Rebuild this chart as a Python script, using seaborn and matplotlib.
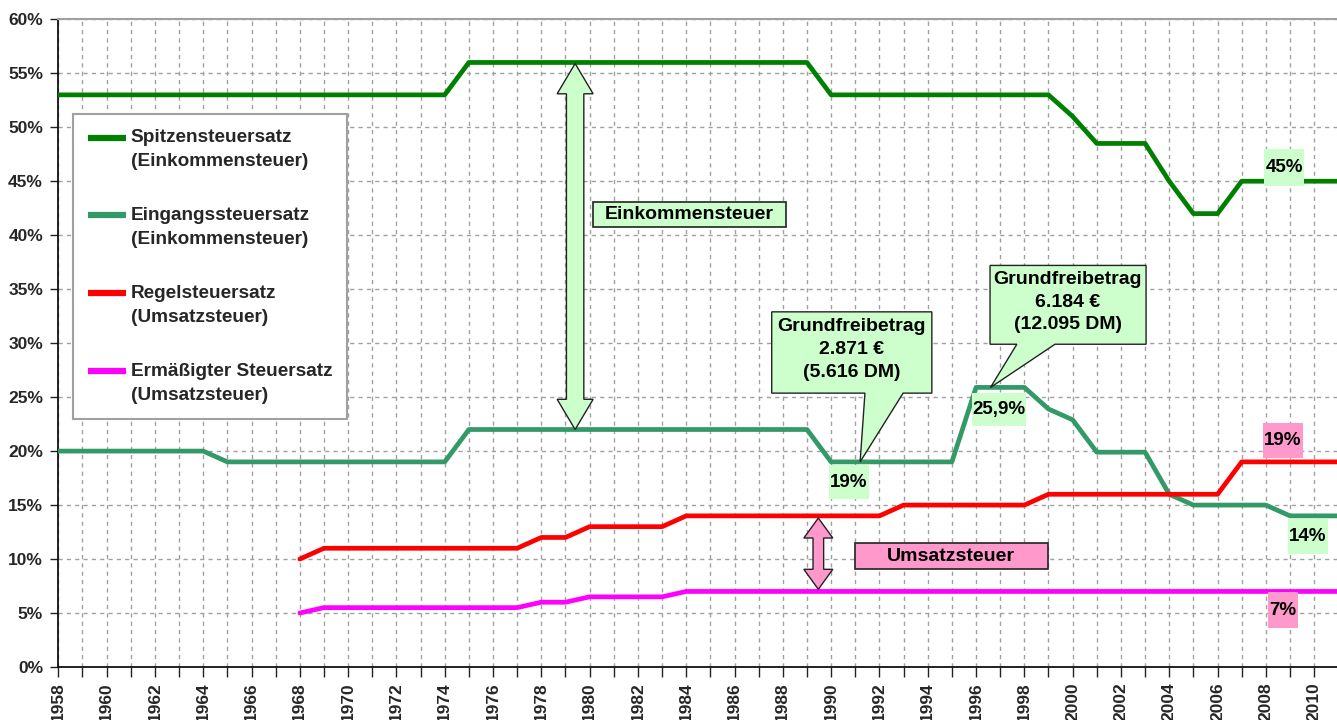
import numpy as np
import pandas as pd
import matplotlib
matplotlib.use("Agg")
import matplotlib.pyplot as plt
import matplotlib.patches as mpatches
from matplotlib.lines import Line2D
from matplotlib.legend_handler import HandlerLine2D
from matplotlib.ticker import MultipleLocator, FixedLocator, FuncFormatter
import seaborn as sns

# ---------------- data ----------------
years = [1958, 1959, 1960, 1961, 1962, 1963, 1964, 1965, 1966, 1967,
         1968, 1969, 1970, 1971, 1972, 1973, 1974, 1975, 1976, 1977,
         1978, 1979, 1980, 1981, 1982, 1983, 1984, 1985, 1986, 1987,
         1988, 1989, 1990, 1991, 1992, 1993, 1994, 1995, 1996, 1997,
         1998, 1999, 2000, 2001, 2002, 2003, 2004, 2005, 2006, 2007,
         2008, 2009, 2010, 2011]

spitzensteuersatz = [53, 53, 53, 53, 53, 53, 53, 53, 53, 53,
                     53, 53, 53, 53, 53, 53, 53, 56, 56, 56,
                     56, 56, 56, 56, 56, 56, 56, 56, 56, 56,
                     56, 56, 53, 53, 53, 53, 53, 53, 53, 53,
                     53, 53, 51, 48.5, 48.5, 48.5, 45, 42, 42, 45,
                     45, 45, 45, 45]

eingangssteuersatz = [20, 20, 20, 20, 20, 20, 20, 19, 19, 19,
                      19, 19, 19, 19, 19, 19, 19, 22, 22, 22,
                      22, 22, 22, 22, 22, 22, 22, 22, 22, 22,
                      22, 22, 19, 19, 19, 19, 19, 19, 25.9, 25.9,
                      25.9, 23.9, 22.9, 19.9, 19.9, 19.9, 16, 15, 15, 15,
                      15, 14, 14, 14]

regelsteuersatz = [None, None, None, None, None, None, None, None, None, None,
                   10, 11, 11, 11, 11, 11, 11, 11, 11, 11,
                   12, 12, 13, 13, 13, 13, 14, 14, 14, 14,
                   14, 14, 14, 14, 14, 15, 15, 15, 15, 15,
                   15, 16, 16, 16, 16, 16, 16, 16, 16, 19,
                   19, 19, 19, 19]

ermaessigter_steuersatz = [None, None, None, None, None, None, None, None, None, None,
                           5, 5.5, 5.5, 5.5, 5.5, 5.5, 5.5, 5.5, 5.5, 5.5,
                           6, 6, 6.5, 6.5, 6.5, 6.5, 7, 7, 7, 7,
                           7, 7, 7, 7, 7, 7, 7, 7, 7, 7,
                           7, 7, 7, 7, 7, 7, 7, 7, 7, 7,
                           7, 7, 7, 7]

series_names = ["Spitzensteuersatz\n(Einkommensteuer)",
                "Eingangssteuersatz\n(Einkommensteuer)",
                "Regelsteuersatz\n(Umsatzsteuer)",
                "Ermäßigter Steuersatz\n(Umsatzsteuer)"]
series_colors = ["#008000", "#339966", "#FF0000", "#FF00FF"]

y_ticks = [0, 5, 10, 15, 20, 25, 30, 35, 40, 45, 50, 55, 60]
x_label_years = [1958, 1960, 1962, 1964, 1966, 1968, 1970, 1972, 1974, 1976,
                 1978, 1980, 1982, 1984, 1986, 1988, 1990, 1992, 1994, 1996,
                 1998, 2000, 2002, 2004, 2006, 2008, 2010]

# ---------------- long data frame ----------------
frames = []
for name, vals in zip(series_names, [spitzensteuersatz, eingangssteuersatz,
                                     regelsteuersatz, ermaessigter_steuersatz]):
    frames.append(pd.DataFrame({"Jahr": years, "Satz": vals, "Reihe": name}))
df = pd.concat(frames, ignore_index=True)
df["Satz"] = pd.to_numeric(df["Satz"])
df = df.dropna()

# ---------------- style ----------------
sns.set_theme(style="white")
plt.rcParams["font.family"] = ["Liberation Sans", "DejaVu Sans"]
plt.rcParams["font.weight"] = "bold"

W, H = 1337, 720
fig = plt.figure(figsize=(W / 100, H / 100), dpi=100)
ax = fig.add_axes([58.3 / W, 53 / H, 1280 / W, 647.7 / H])

palette = dict(zip(series_names, series_colors))
sns.lineplot(data=df, x="Jahr", y="Satz", hue="Reihe", hue_order=series_names,
             palette=palette, linewidth=3.4, legend=False, ax=ax,
             estimator=None, sort=True, zorder=3)
for ln in ax.lines:
    ln.set_solid_joinstyle("round")

ax.set_xlim(1958, 2011)
ax.set_ylim(0, 60)
ax.set_xlabel("")
ax.set_ylabel("")

ax.xaxis.set_major_locator(FixedLocator(x_label_years))
ax.xaxis.set_minor_locator(MultipleLocator(1))
ax.set_xticks(x_label_years)
ax.set_xticklabels([str(y) for y in x_label_years], rotation=90,
                   fontsize=12.5, fontweight="bold")
ax.set_yticks(y_ticks)
ax.yaxis.set_major_formatter(FuncFormatter(lambda v, p: f"{int(v)}%"))
for lab in ax.get_yticklabels():
    lab.set_fontsize(12.5)
    lab.set_fontweight("bold")

ax.tick_params(axis="x", which="both", direction="out", length=7, width=1,
               color="#222222", pad=4, bottom=True)
ax.tick_params(axis="y", which="major", direction="out", length=6, width=1,
               color="#222222", pad=5, left=True)

ax.grid(True, axis="x", which="both", color="#A0A0A0", linestyle=(0, (3, 3)),
        linewidth=1, zorder=0)
ax.grid(True, axis="y", which="major", color="#A0A0A0", linestyle=(0, (3, 3)),
        linewidth=1, zorder=0)
ax.set_axisbelow(True)

for side in ["top", "right"]:
    ax.spines[side].set_color("#A0A0A0")
    ax.spines[side].set_linewidth(1.5)
for side in ["left", "bottom"]:
    ax.spines[side].set_color("#111111")
    ax.spines[side].set_linewidth(1.3)

GREEN = "#CCFFCC"
PINK = "#FF99CC"
TXT = dict(fontsize=14, fontweight="bold", color="black")

# ---------------- double arrows ----------------
def double_arrow(xc, y0, y1, head_hw, head_len, shaft_hw, fc):
    verts = [(xc, y1), (xc + head_hw, y1 - head_len), (xc + shaft_hw, y1 - head_len),
             (xc + shaft_hw, y0 + head_len), (xc + head_hw, y0 + head_len), (xc, y0),
             (xc - head_hw, y0 + head_len), (xc - shaft_hw, y0 + head_len),
             (xc - shaft_hw, y1 - head_len), (xc - head_hw, y1 - head_len)]
    ax.add_patch(mpatches.Polygon(verts, closed=True, facecolor=fc,
                                  edgecolor="#222222", linewidth=1, zorder=4))

double_arrow(1979.4, 22.0, 55.9, 0.745, 2.8, 0.36, GREEN)
double_arrow(1989.47, 7.2, 13.8, 0.6, 1.85, 0.22, PINK)

# ---------------- labelled boxes with border ----------------
def bordered_box(xc, yc, w, h, text, fc):
    ax.add_patch(mpatches.Rectangle((xc - w / 2, yc - h / 2), w, h, facecolor=fc,
                                    edgecolor="#222222", linewidth=1.2, zorder=4))
    ax.text(xc, yc, text, ha="center", va="center", zorder=5, **TXT)

bordered_box(1984.14, 41.94, 7.99, 2.31, "Einkommensteuer", GREEN)
bordered_box(1994.97, 10.25, 8.0, 2.4, "Umsatzsteuer", PINK)

# ---------------- callouts ----------------
def callout(x0, x1, ybot, ytop, pb0, pb1, tip, text, tx, ty):
    verts = [(x0, ytop), (x1, ytop), (x1, ybot), (pb1, ybot), tip, (pb0, ybot), (x0, ybot)]
    ax.add_patch(mpatches.Polygon(verts, closed=True, facecolor=GREEN,
                                  edgecolor="#222222", linewidth=1, zorder=4))
    ax.text(tx, ty, text, ha="center", va="center", multialignment="center",
            linespacing=1.45, zorder=5, **TXT)

callout(1987.54, 1994.17, 25.37, 32.9, 1991.4, 1992.98, (1991.2, 19.0),
        "Grundfreibetrag\n2.871 €\n(5.616 DM)", 1990.85, 29.4)
callout(1996.58, 2003.04, 29.9, 37.2, 1997.69, 1999.27, (1996.6, 25.9),
        "Grundfreibetrag\n6.184 €\n(12.095 DM)", 1999.8, 33.8)

# ---------------- value labels ----------------
PXX, PXY = 24.15, 10.8
def value_label(xc, yc, wpx, hpx, text, fc):
    w, h = wpx / PXX, hpx / PXY
    ax.add_patch(mpatches.Rectangle((xc - w / 2, yc - h / 2), w, h, facecolor=fc,
                                    edgecolor="none", zorder=4))
    ax.text(xc, yc, text, ha="center", va="center", zorder=5,
            fontsize=13.5, fontweight="bold", color="black")

value_label(2008.76, 46.3, 40, 37, "45%", GREEN)
value_label(1990.74, 17.13, 40, 34, "19%", GREEN)
value_label(1996.95, 23.84, 54, 33, "25,9%", GREEN)
value_label(2009.74, 12.08, 40, 35, "14%", GREEN)
value_label(2008.71, 20.97, 40, 35, "19%", PINK)
value_label(2008.71, 5.28, 30, 36, "7%", PINK)

# ---------------- legend ----------------
class FirstLineHandler(HandlerLine2D):
    def create_artists(self, legend, orig_handle, xdescent, ydescent, width,
                       height, fontsize, trans):
        arts = super().create_artists(legend, orig_handle, xdescent, ydescent,
                                      width, height, fontsize, trans)
        for a in arts:
            a.set_ydata(np.asarray(a.get_ydata(), dtype=float) + 0.64 * fontsize)
        return arts

handles = [Line2D([0], [0], color=c, linewidth=4.5, solid_capstyle="butt")
           for c in series_colors]
leg = ax.legend(handles, series_names, loc="upper left",
                bbox_to_anchor=(0.01125, 0.8534), borderaxespad=0,
                frameon=True, fancybox=False, framealpha=1, edgecolor="#A0A0A0",
                prop={"size": 13.7, "weight": "bold"}, handlelength=2.0,
                handletextpad=0.25, labelspacing=1.95, borderpad=0.8,
                handler_map={Line2D: FirstLineHandler()})
leg.get_frame().set_linewidth(1.5)
leg.set_zorder(6)
for t in leg.get_texts():
    t.set_linespacing(1.52)

fig.savefig("out.png", dpi=100)
